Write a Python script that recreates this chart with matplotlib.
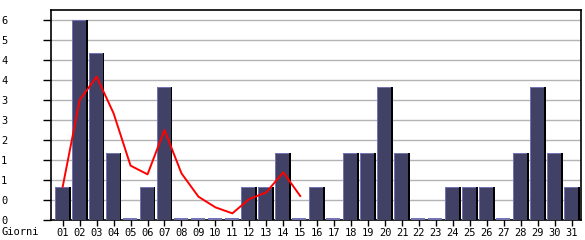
import numpy as np
import matplotlib.pyplot as plt

# Data
days = ['%02d' % d for d in range(1, 32)]
counts = [1, 6, 5, 2, 0, 1, 4, 0, 0, 0, 0, 1, 1, 2, 0, 1, 0, 2, 2, 4, 2,
          0, 0, 1, 1, 1, 0, 2, 4, 2, 1]
trend = [1.0, 3.6, 4.3, 3.2, 1.63, 1.37, 2.7, 1.4, 0.7, 0.38, 0.2, 0.63,
         0.83, 1.43, 0.72]
y_ticks = [0, 0.6, 1.2, 1.8, 2.4, 3.0, 3.6, 4.2, 4.8, 5.4, 6.0]
y_labels = ['0', '0', '1', '1', '2', '3', '3', '4', '4', '5', '6']

W, H = 585, 240
FILL = '#414166'
EDGE = '#7474b4'

fig = plt.figure(figsize=(W / 100, H / 100), dpi=100)
ax = fig.add_axes([51 / W, 20 / H, 530 / W, 210 / H])

x = np.arange(1, len(days) + 1)
ax.set_xlim(0.31, 31.55)
ax.set_ylim(0, 6.3)

px = (31.55 - 0.31) / 530  # data units per pixel
py = 6.3 / 210

for xi, h in zip(x, counts):
    left = xi - 7.85 * px
    if h == 0:
        ax.bar(left, 2 * py, width=14 * px, align='edge', color=EDGE, zorder=3)
        continue
    ax.bar(left + 2 * px, h, width=13.7 * px, align='edge', color='black', zorder=3)
    ax.bar(left, h, width=14 * px, align='edge', color=EDGE, zorder=4)
    ax.bar(left + px, h - py, width=13 * px, align='edge', color=FILL, zorder=5)

ax.plot(x[:len(trend)], trend, color='#ff0000', linewidth=1.4, zorder=6)

for t in y_ticks[1:]:
    ax.axhline(t, color='#b4b4b4', linewidth=1.0, zorder=1)

ax.set_xticks(x)
ax.set_xticklabels(days, family='DejaVu Sans Mono', fontsize=7.5)
ax.set_yticks(y_ticks)
ax.set_yticklabels(y_labels, family='DejaVu Sans Mono', fontsize=7.5)
for lab in ax.get_yticklabels():
    lab.set_horizontalalignment('left')
ax.tick_params(axis='y', length=6, width=1, pad=30)
ax.tick_params(axis='x', length=4, width=1, pad=2)

for s in ax.spines.values():
    s.set_linewidth(1.2)
    s.set_color('black')

fig.text(1 / W, 1 - 232 / H, 'Giorni', family='DejaVu Sans Mono',
         fontsize=7.5, va='center', ha='left')

plt.savefig('out.png', dpi=100)
